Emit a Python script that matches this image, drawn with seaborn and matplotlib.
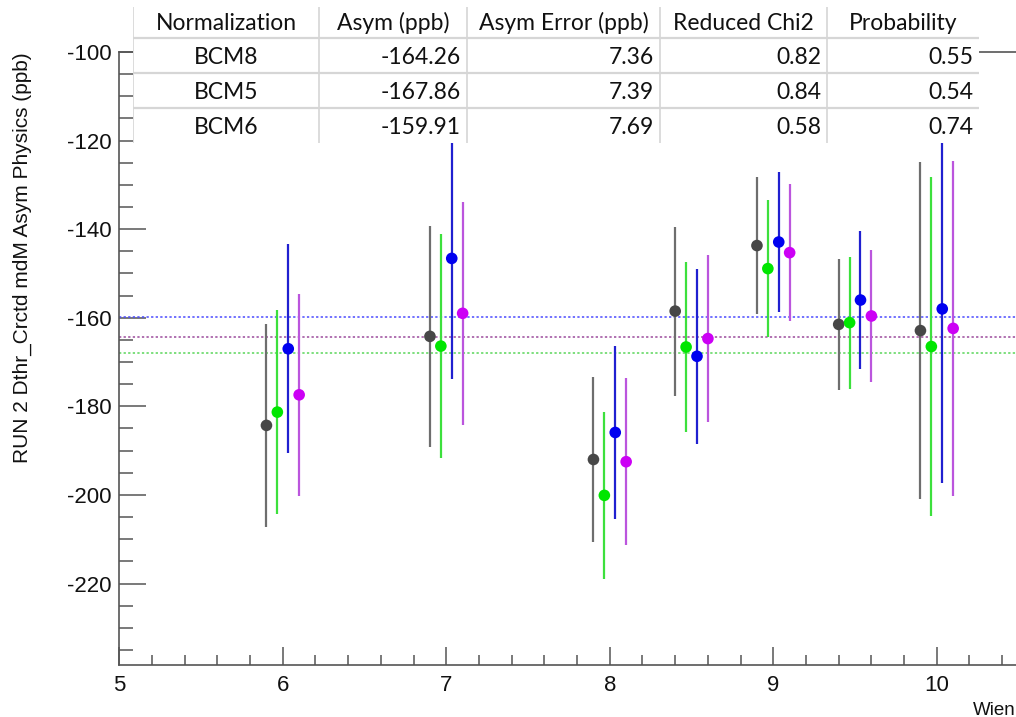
import numpy as np
import pandas as pd
import matplotlib
matplotlib.use("Agg")
import matplotlib.pyplot as plt
from matplotlib.ticker import MultipleLocator
import seaborn as sns

# Wien settings and per-normalization asymmetries (ppb)
wien_points = [6, 7, 8, 8.5, 9, 9.5, 10]
series_names = ["BCM avg", "BCM5", "BCM6", "BCM8"]
asym_bcm_avg = [-184.3, -164.2, -192.0, -158.5, -143.7, -161.5, -162.9]
err_bcm_avg = [22.9, 25.0, 18.7, 19.1, 15.5, 14.8, 38.0]
asym_bcm5 = [-181.3, -166.4, -200.1, -166.6, -148.9, -161.1, -166.5]
err_bcm5 = [23.0, 25.3, 18.8, 19.1, 15.5, 14.9, 38.2]
asym_bcm6 = [-167.0, -146.6, -185.9, -168.7, -142.9, -156.0, -158.0]
err_bcm6 = [23.6, 27.2, 19.5, 19.8, 15.9, 15.5, 39.3]
asym_bcm8 = [-177.4, -159.0, -192.5, -164.7, -145.3, -159.6, -162.4]
err_bcm8 = [22.8, 25.2, 18.8, 18.9, 15.4, 14.8, 37.9]

# Constant-fit results
fit_names = ["BCM8", "BCM5", "BCM6"]
fit_asym = [-164.26, -167.86, -159.91]
fit_err = [7.36, 7.39, 7.69]
fit_chi2 = [0.82, 0.84, 0.58]
fit_prob = [0.55, 0.54, 0.74]
table_header = ["Normalization", "Asym (ppb)", "Asym Error (ppb)", "Reduced Chi2", "Probability"]

# Styling
series_offsets = [-0.1, -1 / 30, 1 / 30, 0.1]
marker_colors = ["#474747", "#00e600", "#0000f0", "#cc00f5"]
bar_colors = ["#6e6e6e", "#3ce03c", "#2020d0", "#bb55dd"]
fit_line_colors = {"BCM8": "#9b4a9b", "BCM5": "#5ad65a", "BCM6": "#4a4aff"}

asym_all = [asym_bcm_avg, asym_bcm5, asym_bcm6, asym_bcm8]
err_all = [err_bcm_avg, err_bcm5, err_bcm6, err_bcm8]

rows = []
for name, off, ys, es in zip(series_names, series_offsets, asym_all, err_all):
    for w, y, e in zip(wien_points, ys, es):
        rows.append({"series": name, "x": w + off, "asym": y, "err": e})
df = pd.DataFrame(rows)

sns.set_theme(style="white")
plt.rcParams["font.family"] = ["Liberation Sans", "DejaVu Sans"]
plt.rcParams["axes.unicode_minus"] = False

W, H = 1016, 717
fig = plt.figure(figsize=(W / 100, H / 100), dpi=100)
ax = fig.add_axes([119.3 / W, 52 / H, 5.5 * 163.5 / W, 613 / H])

for name, val in zip(fit_names, fit_asym):
    ax.axhline(val, color=fit_line_colors[name], ls=(0, (1.5, 1.5)), lw=1.1, zorder=1)

for i, name in enumerate(series_names):
    sub = df[df["series"] == name]
    ax.errorbar(sub["x"], sub["asym"], yerr=sub["err"], fmt="none",
                ecolor=bar_colors[i], elinewidth=1.6, capsize=0, zorder=2)

sns.scatterplot(data=df, x="x", y="asym", hue="series",
                palette=dict(zip(series_names, marker_colors)),
                s=70, edgecolor="none", legend=False, ax=ax, zorder=3)

ax.set_xlim(5, 10.5)
ax.set_ylim(-238.4, -100)
ax.set_xlabel("")
ax.set_ylabel("")
ax.xaxis.set_major_locator(MultipleLocator(1))
ax.xaxis.set_minor_locator(MultipleLocator(0.2))
ax.yaxis.set_major_locator(MultipleLocator(20))
ax.yaxis.set_minor_locator(MultipleLocator(5))
ax.tick_params(which="both", direction="in", color="#555555", width=1.1,
               labelsize=16, labelcolor="#111111",
               bottom=True, left=True, top=False, right=False)
ax.tick_params(axis="y", which="major", length=19.4, pad=5.5)
ax.tick_params(axis="y", which="minor", length=10)
ax.tick_params(axis="x", which="major", length=13, pad=7)
ax.tick_params(axis="x", which="minor", length=7)
for sp in ax.spines.values():
    sp.set_color("#555555")
    sp.set_linewidth(1.2)

fig.text(22.5 / W, 1 - 257.5 / H, "RUN 2 Dthr_Crctd mdM Asym Physics (ppb)",
         rotation=90, ha="center", va="center", fontsize=15, color="#111111")
fig.text(973 / W, 1 - 715 / H, "Wien", ha="left", va="baseline", fontsize=13.5, color="#111111")

# Fit-result table laid over the top of the plot
cols = [133, 319, 467, 660, 827, 979]
row_lines = [38, 73, 108]
tab = fig.add_axes([133 / W, 1 - 143 / H, (979 - 133) / W, 143 / H])
tab.set_zorder(5)
tab.set_facecolor("white")
tab.set_xlim(133, 979)
tab.set_ylim(143, 0)
tab.set_xticks([])
tab.set_yticks([])
for sp in tab.spines.values():
    sp.set_visible(False)
for cx in cols[:-1]:
    tab.plot([cx, cx], [7, 143], color="#d6d6d6", lw=1.2, solid_capstyle="butt")
for ry in row_lines:
    tab.plot([133, 979], [ry, ry], color="#d6d6d6", lw=1.6, solid_capstyle="butt")

tfont = dict(family=["Lato", "DejaVu Sans"], fontsize=16.5, color="#111111")
for j, head in enumerate(table_header):
    tab.text((cols[j] + cols[j + 1]) / 2, 23, head, ha="center", va="center", **tfont)
row_y = [57, 92.5, 128]
for r, name in enumerate(fit_names):
    yy = row_y[r]
    tab.text((cols[0] + cols[1]) / 2, yy, name, ha="center", va="center", **tfont)
    vals = [fit_asym[r], fit_err[r], fit_chi2[r], fit_prob[r]]
    for j, v in enumerate(vals):
        tab.text(cols[j + 2] - 6, yy, f"{v:.2f}", ha="right", va="center", **tfont)

fig.savefig("out.png", dpi=100)
